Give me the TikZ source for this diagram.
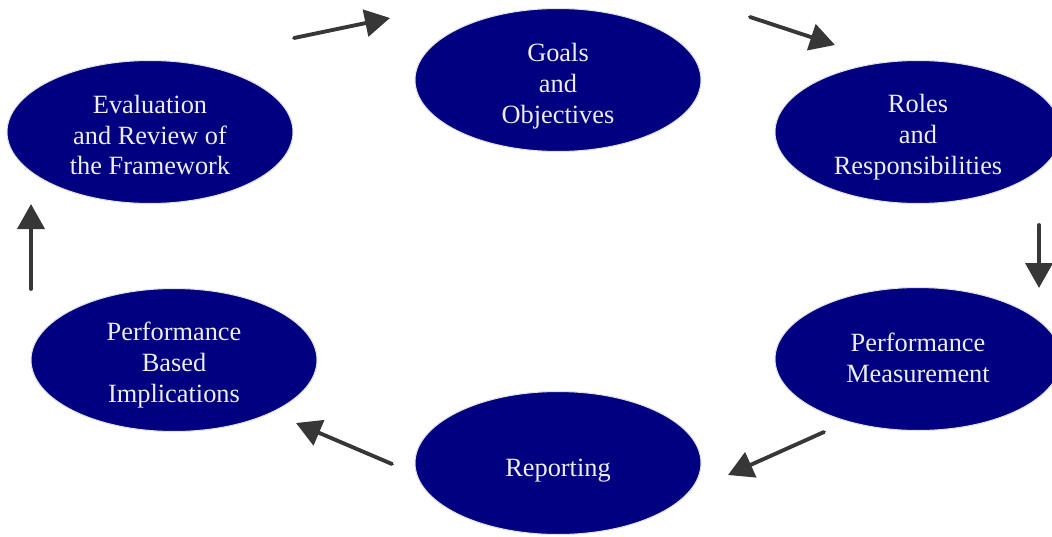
\documentclass[tikz,border=0pt]{standalone}
\usepackage{fontspec}
\setmainfont{Liberation Serif}
\usetikzlibrary{arrows.meta,shapes.geometric}

\definecolor{navy}{RGB}{0,0,128}
\definecolor{arrowgray}{RGB}{55,55,55}

\begin{document}
\begin{tikzpicture}[x=0.2mm, y=-0.2mm,
    stage/.style={ellipse, fill=navy, draw=black!12, line width=0.6pt,
      minimum width=57.2mm, minimum height=28.6mm, inner sep=0pt},
    caption/.style={text=white!93!black, align=center, inner sep=0pt,
      font=\fontsize{15}{17.6}\selectfont},
    flow/.style={-{Triangle[length=5mm, width=5.4mm]}, draw=arrowgray,
      fill=arrowgray, line width=2.2pt, line cap=round}]
  \useasboundingbox (0,0) rectangle (1052,536);

  % the six stages
  \node[stage] (goals) at (558,80)  {};
  \node[stage] (roles) at (918,132) {};
  \node[stage] (meas)  at (918,359) {};
  \node[stage] (rep)   at (558,463) {};
  \node[stage] (impl)  at (174,360) {};
  \node[stage] (eval)  at (150,132) {};

  \node[caption] (goalst) at ([yshift=-3.4pt]goals) {Goals\\and\\Objectives};
  \node[caption] (rolest) at ([yshift=-2.8pt]roles) {Roles\\and\\Responsibilities};
  \node[caption] (meast)  at ([yshift=0.8pt]meas)   {Performance\\Measurement};
  \node[caption] (rept)   at ([yshift=-4.5pt]rep)   {Reporting};
  \node[caption] (implt)  at ([yshift=-2.8pt]impl)  {Performance\\Based\\Implications};
  \node[caption] (evalt)  at ([yshift=-1.7pt]eval)  {Evaluation\\and Review of\\the Framework};

  % arrow ends between the stages
  \coordinate (e1) at (294,38);   \coordinate (g1) at (390,18);
  \coordinate (g2) at (750,17);   \coordinate (r1) at (835,45);
  \coordinate (r2) at (1039,225); \coordinate (m1) at (1039,288);
  \coordinate (m2) at (824,432);  \coordinate (p1) at (728,475);
  \coordinate (p2) at (392,464);  \coordinate (i1) at (296,423);
  \coordinate (i2) at (31,289);   \coordinate (v1) at (31,204);

  \draw[flow] (e1) -- (g1);
  \draw[flow] (g2) -- (r1);
  \draw[flow] (r2) -- (m1);
  \draw[flow] (m2) -- (p1);
  \draw[flow] (p2) -- (i1);
  \draw[flow] (i2) -- (v1);
\end{tikzpicture}
\end{document}
